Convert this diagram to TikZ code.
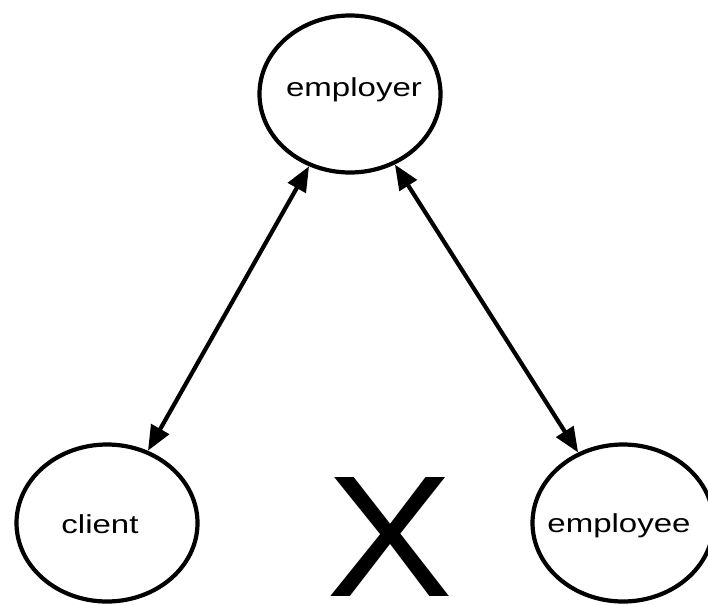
\documentclass[tikz,border=0pt]{standalone}
\usepackage{fontspec}
\setmainfont{Liberation Sans}
\usetikzlibrary{shapes.geometric,arrows.meta}
\begin{document}
\begin{tikzpicture}[x=1pt,y=-1pt,
  party/.style={ellipse, draw, line width=4.2pt, inner sep=0pt,
                minimum width=181pt, minimum height=157pt},
  partyname/.style={anchor=base, inner sep=0pt,
                font=\fontsize{26}{26}\selectfont},
  link/.style={line width=4.2pt,
               {Triangle[length=25pt,width=20pt]}-{Triangle[length=25pt,width=20pt]}}
]
\useasboundingbox (0,0) rectangle (708,604);

% the three parties
\node[party] (employer) at (350,94) {};
\node[party] (client)   at (107,523) {};
\node[party] (employee) at (623,523) {};

\node[partyname] (employerlabel) at (354,97) {\scalebox{1.27}[1]{employer}};
\node[partyname] (clientlabel)   at (100,533) {\scalebox{1.27}[1]{client}};
\node[partyname] (employeelabel) at (619,532) {\scalebox{1.27}[1]{employee}};

% no direct relation between client and employee
\node[anchor=base, inner sep=0pt, font=\fontsize{173}{173}\selectfont]
  (cross) at (390,596) {\scalebox{1.1}[1]{X}};

% relations with the employer
\draw[link] (client) -- (employer);
\draw[link] (employer) -- (employee);
\end{tikzpicture}
\end{document}
